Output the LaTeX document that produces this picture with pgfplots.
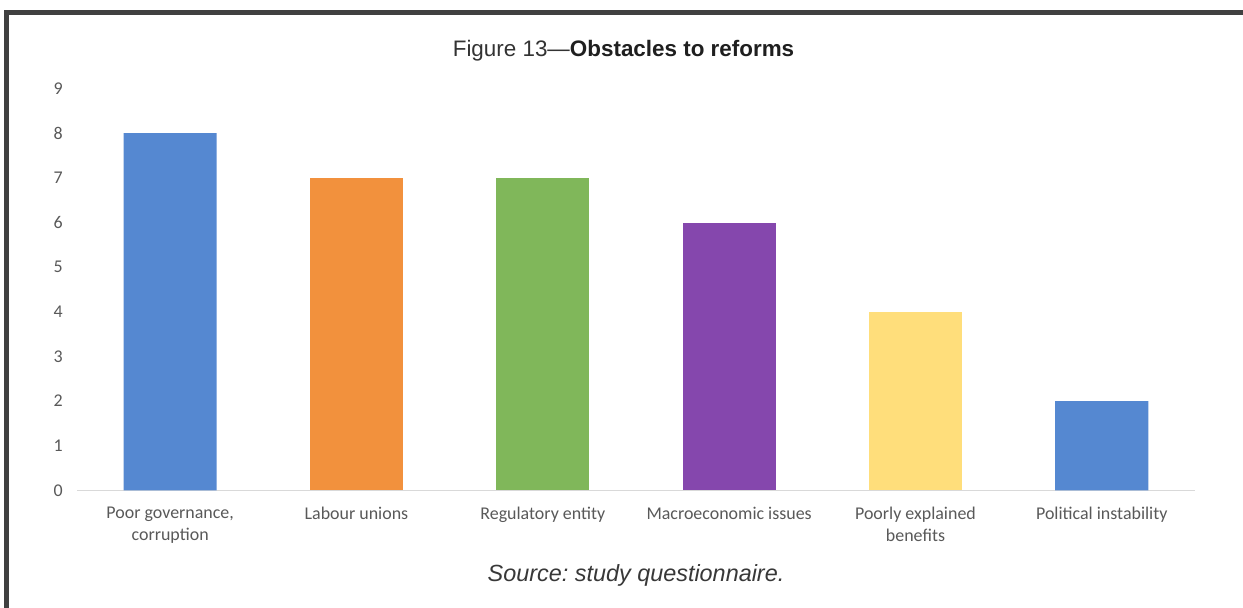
\documentclass[border=0pt]{standalone}
\usepackage{fontspec}
\setmainfont{Liberation Sans}
\newfontfamily\carlito{Carlito}
\usepackage{pgfplots}
\pgfplotsset{compat=1.18}
\frenchspacing
\definecolor{cblue}{HTML}{5588D1}
\definecolor{corange}{HTML}{F2913D}
\definecolor{cgreen}{HTML}{80B75A}
\definecolor{cpurple}{HTML}{8547AD}
\definecolor{cyellow}{HTML}{FFDE7B}
\definecolor{frame}{HTML}{404040}
\definecolor{ticklab}{HTML}{595959}
\definecolor{axisgray}{HTML}{D9D9D9}
\begin{document}
\begin{tikzpicture}[x=1bp,y=1bp]
\path[use as bounding box] (0,0) rectangle (1243,608);
\fill[white] (0,0) rectangle (1243,608);
\fill[frame] (4,0) rectangle (9,598);
\fill[frame] (4,593) rectangle (1243,598);
\node[anchor=base, inner sep=0pt, font=\fontsize{22.5}{27}\selectfont] at (623.5,551)
  {\textcolor{black!80}{Figure 13—}\textcolor{black!88}{\textbf{Obstacles to reforms}}};
\node[anchor=base, inner sep=0pt, font=\fontsize{23.5}{28}\selectfont\itshape, text=black!78] at (636,26.3)
  {Source: study questionnaire.};
\begin{axis}[
  at={(77bp,117.5bp)}, anchor=south west,
  width=1118bp, height=401.9bp, scale only axis,
  xmin=-0.5, xmax=5.5, ymin=0, ymax=9,
  ytick={0,1,2,3,4,5,6,7,8,9},
  xtick={0,1,2,3,4,5},
  xticklabels={{Poor governance,\\corruption},{Labour unions},{Regulatory entity},{Macroeconomic issues},{Poorly explained\\benefits},{Political instability}},
  axis x line=bottom, axis y line=left,
  x axis line style={-, draw=axisgray, line width=1.5bp},
  y axis line style={draw=none},
  major tick length=0pt, tick style={draw=none},
  /pgf/number format/assume math mode=true,
  ticklabel style={font=\carlito\fontsize{18}{22}\selectfont, text=ticklab},
  yticklabel style={anchor=east, inner sep=0pt, xshift=-14bp},
  xticklabel style={anchor=north, inner sep=0pt, yshift=-16bp, align=center},
  clip=false,
]
\addplot[ybar, bar width=0.5, bar shift=0pt, fill=cblue, draw=none] coordinates {(0,8) (5,2)};
\addplot[ybar, bar width=0.5, bar shift=0pt, fill=corange, draw=none] coordinates {(1,7)};
\addplot[ybar, bar width=0.5, bar shift=0pt, fill=cgreen, draw=none] coordinates {(2,7)};
\addplot[ybar, bar width=0.5, bar shift=0pt, fill=cpurple, draw=none] coordinates {(3,6)};
\addplot[ybar, bar width=0.5, bar shift=0pt, fill=cyellow, draw=none] coordinates {(4,4)};
\end{axis}
\end{tikzpicture}
\end{document}
